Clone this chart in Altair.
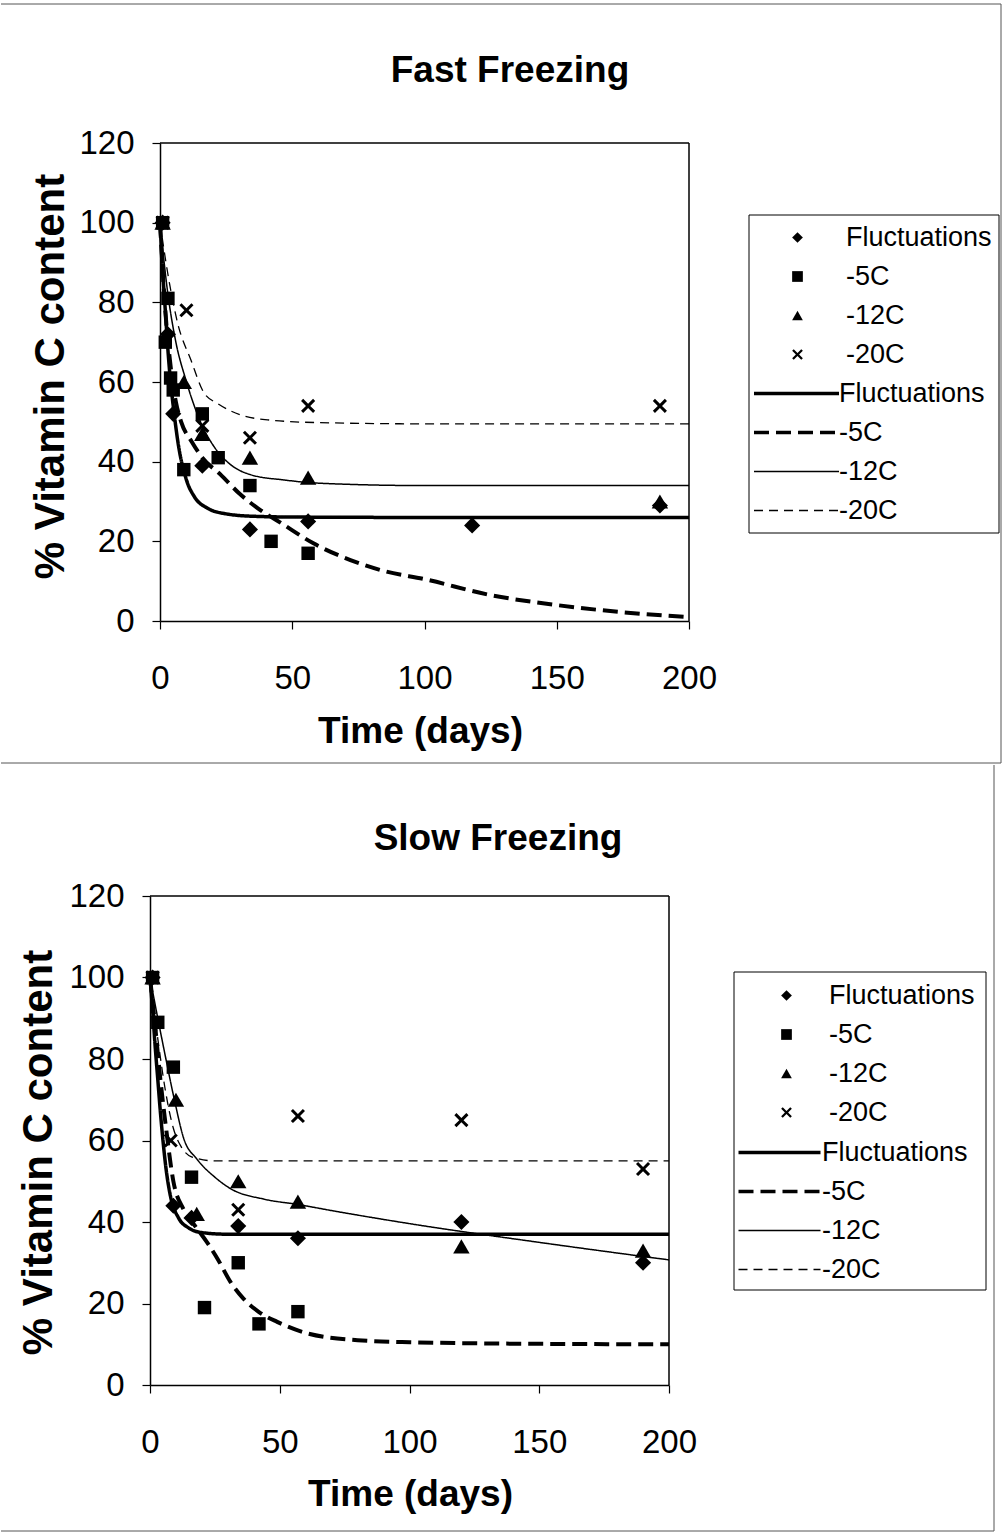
import altair as alt
import pandas as pd

SERIES = ["Fluctuations", "-5C", "-12C", "-20C"]
FONT = "Liberation Sans"

# ---------------- Fast Freezing: measured points ----------------
FAST_FLUC_T = [1, 3, 5, 16, 34, 56, 118, 189]
FAST_FLUC_V = [100, 72, 52, 39, 23, 25, 24, 29]
FAST_M5_T = [1, 2, 3, 4, 5, 9, 16, 22, 34, 42, 56]
FAST_M5_V = [100, 70, 81, 61, 58, 38, 52, 41, 34, 20, 17]
FAST_M12_T = [1, 9, 16, 34, 56, 189]
FAST_M12_V = [100, 60, 47, 41, 36, 30]
FAST_M20_T = [1, 10, 16, 34, 56, 189]
FAST_M20_V = [100, 78, 49, 46, 54, 54]

# ---------------- Fast Freezing: fitted curves ----------------
FAST_FLUC_CT = [0, 1, 2, 3, 4, 5, 7, 10, 13, 18, 25, 35, 50, 100, 200]
FAST_FLUC_CV = [100, 88, 78, 68, 60, 54, 44, 35.4, 31.2, 28.3, 26.9, 26.3, 26.1, 26, 26]
FAST_M5_CT = [0, 2, 4, 6, 8, 12, 16, 23, 30, 37, 46, 58, 72, 85, 100, 125, 150, 175, 200]
FAST_M5_CV = [100, 78, 64, 55, 50, 45, 41, 36.7, 32, 28.3, 24.5, 19.5, 15.3, 12.5, 10.5, 6.5, 4, 2.2, 1]
FAST_M12_CT = [0, 3, 6, 9.8, 15.5, 20.4, 26.8, 34.4, 47, 60, 100, 200]
FAST_M12_CV = [100, 82, 70, 60.5, 49.7, 43.8, 39.2, 36.7, 35.4, 34.6, 34, 34]
FAST_M20_CT = [0, 3, 6.7, 11.7, 16.7, 21.8, 30.6, 40.7, 60, 100, 200]
FAST_M20_CV = [100, 87, 74.7, 65.5, 57.2, 54.6, 51.7, 50.5, 49.8, 49.5, 49.5]

# ---------------- Slow Freezing: measured points ----------------
SLOW_FLUC_T = [1, 9, 16, 34, 57, 120, 190]
SLOW_FLUC_V = [100, 44, 41, 39, 36, 40, 30]
SLOW_M5_T = [1, 3, 9, 16, 21, 34, 42, 57]
SLOW_M5_V = [100, 89, 78, 51, 19, 30, 15, 18]
SLOW_M12_T = [1, 10, 18, 34, 57, 120, 190]
SLOW_M12_V = [100, 70, 42, 50, 45, 34, 33]
SLOW_M20_T = [1, 8, 34, 57, 120, 190]
SLOW_M20_V = [100, 60, 43, 66, 65, 53]

# ---------------- Slow Freezing: fitted curves ----------------
SLOW_FLUC_CT = [0, 1, 2, 3, 4, 5, 6, 8, 11, 15, 20, 30, 200]
SLOW_FLUC_CV = [100, 92, 83, 75, 67, 60, 54, 46, 41, 38.5, 37.4, 37, 37]
SLOW_M5_CT = [0, 2, 4, 6, 9, 13, 18, 22, 26, 31, 36, 42, 49, 61, 80, 100, 150, 200]
SLOW_M5_CV = [100, 88, 75, 64, 50, 43, 38.5, 35, 31, 25.3, 21.2, 17.9, 15.5, 12.6, 11, 10.5, 10.1, 10]
SLOW_M12_CT = [0, 3, 5.5, 9.4, 13, 18, 25, 31, 44, 57, 70, 100, 150, 200]
SLOW_M12_CV = [100, 90, 82, 70, 60.5, 55.5, 51, 48.2, 45.6, 44.3, 42.8, 39.6, 35, 30.7]
SLOW_M20_CT = [0, 3, 6, 9, 12, 16, 25, 200]
SLOW_M20_CV = [100, 85, 72, 63, 58.5, 56, 55, 55]

X_TICKS = [0, 50, 100, 150, 200]
Y_TICKS = [0, 20, 40, 60, 80, 100, 120]

X_PATH = ("M-1,-0.7L-0.7,-1L0,-0.3L0.7,-1L1,-0.7L0.3,0L1,0.7L0.7,1"
          "L0,0.3L-0.7,1L-1,0.7L-0.3,0Z")
SHAPES = ["diamond", "square", "triangle-up", X_PATH]
MARK_SIZES = [260, 180, 270, 200]
DASHES = [[1, 0], [15, 7], [1, 0], [9, 6]]
WIDTHS = [3.5, 4, 1.5, 1.3]
LEG_WIDTH_EXPR = "(datum.value === 'Fluctuations' || datum.value === '-5C') ? 3.5 : 1.3"

INDEP = dict(shape="independent", strokeDash="independent", strokeWidth="independent",
             size="independent")


def long_table(ts, vs, field):
    rows = []
    for name, t_list, v_list in zip(SERIES, ts, vs):
        for t, v in zip(t_list, v_list):
            rows.append({"t": t, "v": v, field: name})
    return pd.DataFrame(rows)


def panel(title, pts, curves, cfg):
    w, h, s = cfg["w"], cfg["h"], cfg["shift"]
    pts_df = long_table(pts[0], pts[1], "series_pt")
    ln_df = long_table(curves[0], curves[1], "series_ln")

    x = alt.X("t:Q", scale=alt.Scale(domain=[0, 200], nice=False, zero=False,
                                     range=[-s, w - s]),
              axis=alt.Axis(values=X_TICKS, title="Time (days)", grid=False,
                            labelFlush=False,
                            titleX=cfg["xt_x"], titleY=cfg["xt_y"],
                            titleBaseline="alphabetic"))
    y = alt.Y("v:Q", scale=alt.Scale(domain=[0, 120], nice=False),
              axis=alt.Axis(values=Y_TICKS, title="% Vitamin C content", grid=False,
                            labelFlush=False, offset=s,
                            titleX=cfg["yt_x"], titleY=cfg["yt_y"],
                            titleBaseline="alphabetic", titleAngle=-90))

    line_leg = alt.Legend(orient="none", legendX=cfg["ll_x"], legendY=cfg["ll_y"],
                          title=None, symbolType=cfg["ll_path"], symbolSize=100,
                          symbolStrokeColor="black", symbolFillColor="transparent",
                          symbolStrokeWidth=alt.ExprRef(LEG_WIDTH_EXPR),
                          labelOffset=cfg["ll_off"], padding=0, rowPadding=11)
    lines = alt.Chart(ln_df).mark_line(interpolate="monotone", color="black").encode(
        x=x, y=y,
        strokeDash=alt.StrokeDash("series_ln:N", sort=SERIES,
                                  scale=alt.Scale(range=DASHES), legend=line_leg),
        strokeWidth=alt.StrokeWidth("series_ln:N", sort=SERIES,
                                    scale=alt.Scale(type="ordinal", range=WIDTHS),
                                    legend=None),
    )

    pt_leg = alt.Legend(orient="none", legendX=cfg["pl_x"], legendY=cfg["pl_y"],
                        title=None, symbolSize=115, symbolFillColor="black",
                        symbolStrokeWidth=0,
                        labelOffset=cfg["pl_off"], padding=0, rowPadding=11)
    points = alt.Chart(pts_df).mark_point(filled=True, fill="black", strokeWidth=0,
                                          opacity=1).encode(
        x=x, y=y,
        shape=alt.Shape("series_pt:N", sort=SERIES, scale=alt.Scale(range=SHAPES),
                        legend=pt_leg),
        size=alt.Size("series_pt:N", sort=SERIES,
                      scale=alt.Scale(type="ordinal", range=MARK_SIZES), legend=None),
    )

    one = pd.DataFrame({"k": [0]})
    title_mark = alt.Chart(one).mark_text(
        text=title, font=FONT, fontSize=37, fontWeight="bold", color="black",
        align="center", baseline="alphabetic",
    ).encode(x=alt.value(cfg["t_x"]), y=alt.value(cfg["t_y"]))
    box = alt.Chart(one).mark_rect(filled=False, stroke="black", strokeWidth=1).encode(
        x=alt.value(cfg["box"][0]), x2=alt.value(cfg["box"][1]),
        y=alt.value(cfg["box"][2]), y2=alt.value(cfg["box"][3]))

    # plot-area frame (top and right edges; left/bottom are the axis lines)
    plot_frame = [
        alt.Chart(one).mark_rule(color="black", strokeWidth=1.5).encode(
            x=alt.value(-s), x2=alt.value(w - s), y=alt.value(0)),
        alt.Chart(one).mark_rule(color="black", strokeWidth=1.5).encode(
            x=alt.value(w - s), y=alt.value(0), y2=alt.value(h)),
    ]
    frame_layers = []
    for fx, fx2, fy, fy2 in cfg["frame"]:
        enc = {"x": alt.value(fx), "y": alt.value(fy)}
        if fx2 is not None:
            enc["x2"] = alt.value(fx2)
        if fy2 is not None:
            enc["y2"] = alt.value(fy2)
        frame_layers.append(alt.Chart(one).mark_rule(color="#555555", strokeWidth=1).encode(**enc))

    return alt.layer(lines, points, title_mark, box, *plot_frame, *frame_layers).properties(
        width=w, height=h,
    )


fast_cfg = dict(
    w=529, h=478, shift=0, xt_x=260, xt_y=121, yt_x=-97, yt_y=233,
    ll_x=623, ll_y=237, ll_off=29, ll_path="M-8.5,0L8.5,0",
    pl_x=624, pl_y=81, pl_off=35,
    box=(589, 839, 72, 390),
    frame=[(-159, 841, -139, None), (841, None, -139, 620), (-159, 841, 620, None)],
    t_x=350, t_y=-61,
)
slow_cfg = dict(
    w=519, h=489, shift=10, xt_x=250, xt_y=120, yt_x=-99, yt_y=256,
    ll_x=606, ll_y=243, ll_off=29, ll_path="M-8.2,0L8.2,0",
    pl_x=613, pl_y=86, pl_off=29,
    box=(574, 826, 76, 394),
    frame=[(-159, 834, 635, None), (834, None, -131, 635)],
    t_x=338, t_y=-46,
)

fast = panel("Fast Freezing",
             ([FAST_FLUC_T, FAST_M5_T, FAST_M12_T, FAST_M20_T],
              [FAST_FLUC_V, FAST_M5_V, FAST_M12_V, FAST_M20_V]),
             ([FAST_FLUC_CT, FAST_M5_CT, FAST_M12_CT, FAST_M20_CT],
              [FAST_FLUC_CV, FAST_M5_CV, FAST_M12_CV, FAST_M20_CV]),
             fast_cfg)
slow = panel("Slow Freezing",
             ([SLOW_FLUC_T, SLOW_M5_T, SLOW_M12_T, SLOW_M20_T],
              [SLOW_FLUC_V, SLOW_M5_V, SLOW_M12_V, SLOW_M20_V]),
             ([SLOW_FLUC_CT, SLOW_M5_CT, SLOW_M12_CT, SLOW_M20_CT],
              [SLOW_FLUC_CV, SLOW_M5_CV, SLOW_M12_CV, SLOW_M20_CV]),
             slow_cfg)

chart = alt.vconcat(fast, slow, spacing=0).resolve_scale(
    x="independent", y="independent", **INDEP,
).resolve_legend(**INDEP).properties(
    padding={"left": 0, "top": 3, "right": 0, "bottom": 0},
    background="white",
).configure_view(
    stroke="transparent",
).configure_axis(
    labelFont=FONT, labelFontSize=33, labelColor="black",
    titleFont=FONT, titleFontSize=38, titleFontWeight="bold", titleColor="black",
    domainColor="black", domainWidth=1.5, tickColor="black", tickWidth=1.2,
    tickSize=8,
).configure_axisX(
    labelPadding=33, titleFontSize=37,
).configure_axisY(
    labelPadding=18, titleFontSize=42,
).configure_legend(
    labelFont=FONT, labelFontSize=27, labelColor="black",
).configure_concat(spacing=0)

chart.save("out.html", embed_options={"renderer": "svg", "actions": False})
